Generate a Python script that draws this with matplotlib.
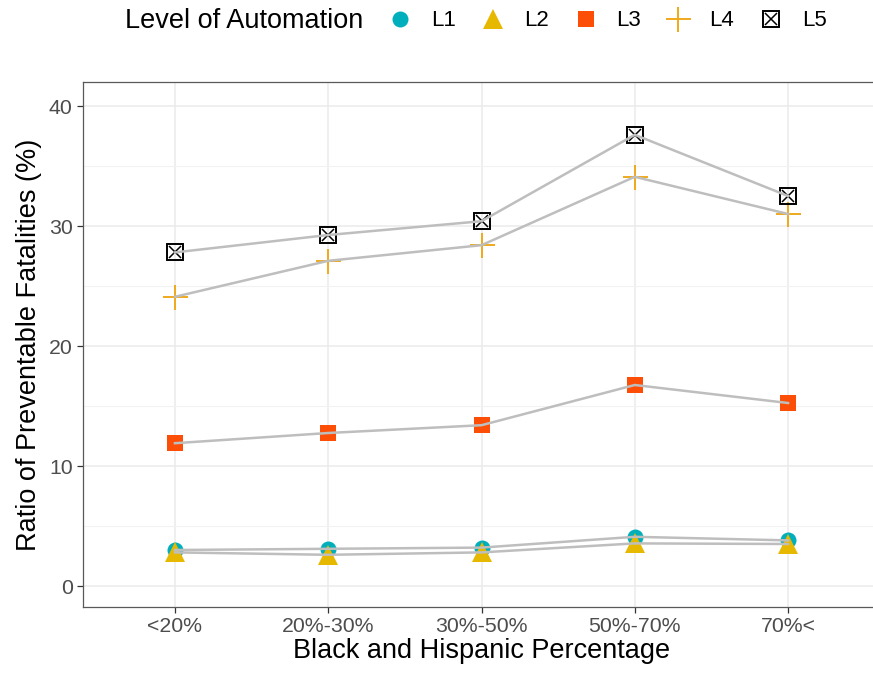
import matplotlib
matplotlib.use("Agg")
import matplotlib.pyplot as plt
from matplotlib.lines import Line2D
from matplotlib.ticker import MultipleLocator

plt.rcParams['font.family'] = ['Liberation Sans', 'DejaVu Sans']

categories = ["<20%", "20%-30%", "30%-50%", "50%-70%", "70%<"]
levels = ["L1", "L2", "L3", "L4", "L5"]
l1 = [3.0, 3.1, 3.2, 4.1, 3.8]
l2 = [2.8, 2.6, 2.8, 3.55, 3.5]
l3 = [11.9, 12.75, 13.4, 16.75, 15.25]
l4 = [24.1, 27.1, 28.4, 34.1, 31.0]
l5 = [27.8, 29.25, 30.4, 37.6, 32.5]
series = [l1, l2, l3, l4, l5]

styles = {
    "L1": dict(marker="o", ms=11.5, mec="#00AFBB", mfc="#00AFBB", mew=0),
    "L2": dict(marker="^", ms=14, mec="#E7B800", mfc="#E7B800", mew=0),
    "L3": dict(marker="s", ms=12, mec="#FC4E07", mfc="#FC4E07", mew=0),
    "L4": dict(marker="+", ms=18, mec="#EFA91B", mfc="none", mew=1.4),
    "L5": dict(marker="s", ms=12, mec="black", mfc="none", mew=1.4),
}

fig = plt.figure(figsize=(8.73, 6.75), dpi=100)
# panel runs past the right edge of the canvas
ax = fig.add_axes([83 / 873, 68 / 675, 797 / 873, 525 / 675])

x = list(range(len(categories)))
for lvl, vals in zip(levels, series):
    st = styles[lvl]
    ax.plot(x, vals, linestyle="none", marker=st["marker"], ms=st["ms"],
            mec=st["mec"], mfc=st["mfc"], mew=st["mew"], zorder=3, clip_on=False)
    if lvl == "L5":
        ax.plot(x, vals, linestyle="none", marker="x", ms=st["ms"] * 0.72,
                mec="black", mew=1.1, zorder=3)
    ax.plot(x, vals, color="#BEBEBE", lw=1.8, zorder=4)

ax.set_xlim(-0.6, 4.6)
ax.set_ylim(-1.75, 42.0)
ax.set_xticks(x)
ax.set_xticklabels(categories)
ax.yaxis.set_major_locator(MultipleLocator(10))
ax.yaxis.set_minor_locator(MultipleLocator(5))
ax.grid(True, which="major", color="#EBEBEB", lw=1.1, zorder=0)
ax.grid(True, which="minor", axis="y", color="#F2F2F2", lw=0.8, zorder=0)
ax.set_axisbelow(True)
for sp in ax.spines.values():
    sp.set_color("#595959")
    sp.set_linewidth(0.9)
ax.tick_params(axis="both", which="major", length=4, width=0.9, color="#333333",
               labelcolor="#4D4D4D", labelsize=15.3)
ax.tick_params(axis="y", which="minor", length=0)
ax.set_xlabel("Black and Hispanic Percentage", fontsize=19.5, color="black", labelpad=1)
ax.set_ylabel("Ratio of Preventable Fatalities (%)", fontsize=19.5, color="black", labelpad=5)

handles = []
for lvl in levels:
    st = styles[lvl]
    if lvl == "L5":
        h = (Line2D([], [], linestyle="none", marker="s", ms=st["ms"] * 0.95, mec="black",
                    mfc="none", mew=1.4),
             Line2D([], [], linestyle="none", marker="x", ms=st["ms"] * 0.68, mec="black", mew=1.1))
    else:
        h = Line2D([], [], linestyle="none", marker=st["marker"], ms=st["ms"],
                   mec=st["mec"], mfc=st["mfc"], mew=st["mew"])
    handles.append(h)

fig.text(125 / 873, 1 - 21 / 675, "Level of Automation", fontsize=19.5, va="center", ha="left")
fig.legend(handles, levels, ncol=5, frameon=False, fontsize=16,
           loc="center left", bbox_to_anchor=(367 / 873, 1 - 21 / 675),
           handletextpad=0.8, columnspacing=1.05, handlelength=1.2)

fig.savefig("out.png", dpi=100)
